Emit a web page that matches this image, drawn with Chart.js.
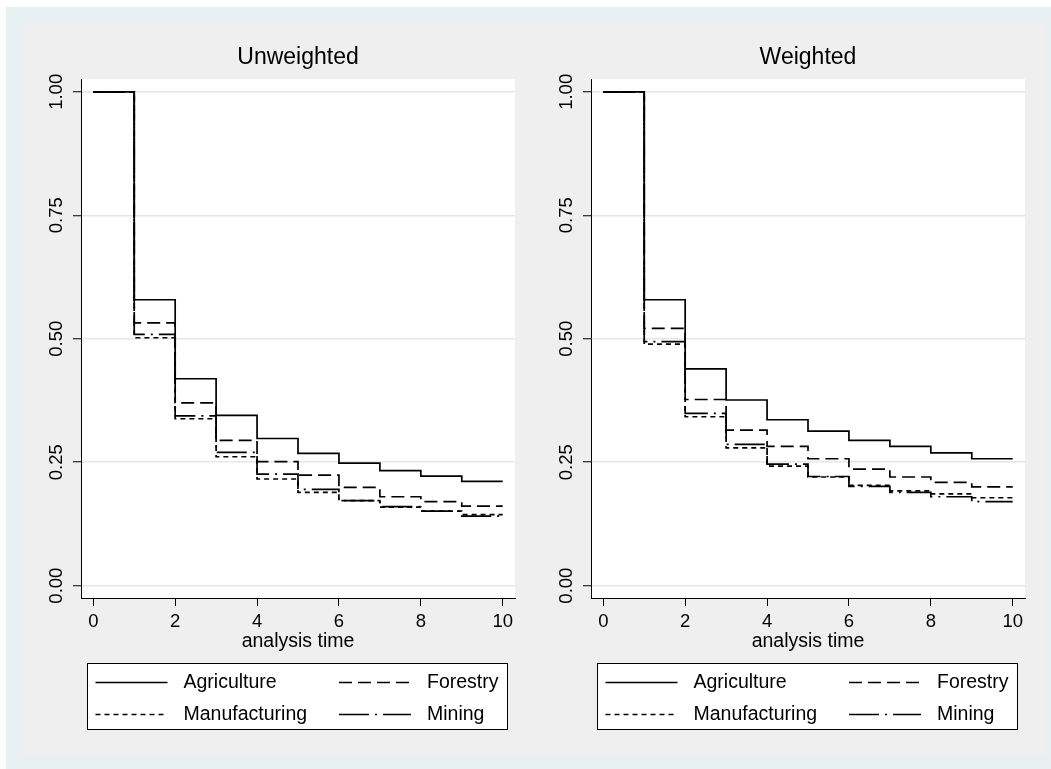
<!DOCTYPE html>
<html lang="en">
<head>
    <meta charset="UTF-8">
    <title>Survival estimates by industry</title>
    <script src="https://cdn.jsdelivr.net/npm/chart.js"></script>
    <style>
        body { margin: 0; background: #ffffff; font-family: "Liberation Sans", Arial, sans-serif; }
        .frame { position: absolute; left: 6px; top: 7px; width: 1045px; height: 762px; background: #e8f0f2; }
        .panel { position: absolute; left: 24px; top: 24px; width: 1022px; height: 733px; background: #efefef; }
        canvas { position: absolute; top: 24px; }
        #chartU { left: 24px; }
        #chartW { left: 535px; }
    </style>
</head>
<body>
    <div class="frame"></div>
    <div class="panel"></div>
    <canvas id="chartU" width="511" height="733"></canvas>
    <canvas id="chartW" width="511" height="733"></canvas>
    <script>
        // analysis time (step points) and axis ticks
        const times = [0, 1, 2, 3, 4, 5, 6, 7, 8, 9, 10];
        const xTicks = [0, 2, 4, 6, 8, 10];
        const yTicks = [0, 0.25, 0.5, 0.75, 1];
        const seriesNames = ["Agriculture", "Forestry", "Manufacturing", "Mining"];

        // Unweighted estimates
        const agriU = [1, 0.579, 0.419, 0.345, 0.298, 0.268, 0.248, 0.233, 0.222, 0.211, 0.211];
        const forU  = [1, 0.532, 0.370, 0.294, 0.251, 0.224, 0.199, 0.180, 0.170, 0.161, 0.161];
        const manU  = [1, 0.502, 0.338, 0.261, 0.216, 0.189, 0.172, 0.159, 0.151, 0.144, 0.144];
        const minU  = [1, 0.509, 0.344, 0.270, 0.226, 0.195, 0.172, 0.160, 0.151, 0.141, 0.141];

        // Weighted estimates
        const agriW = [1, 0.579, 0.439, 0.376, 0.336, 0.313, 0.294, 0.282, 0.269, 0.257, 0.257];
        const forW  = [1, 0.521, 0.377, 0.315, 0.282, 0.257, 0.236, 0.220, 0.209, 0.200, 0.200];
        const manW  = [1, 0.489, 0.342, 0.279, 0.242, 0.220, 0.203, 0.192, 0.186, 0.178, 0.178];
        const minW  = [1, 0.494, 0.349, 0.286, 0.246, 0.221, 0.201, 0.189, 0.180, 0.170, 0.170];

        const dashes = [[], [13, 6], [5, 4], [30, 6, 2, 6]];
        const FONT = "'Liberation Sans', Arial, sans-serif";

        // white plot region
        const plotBg = {
            id: "plotBg",
            beforeDraw(chart) {
                const a = chart.chartArea, ctx = chart.ctx;
                ctx.save();
                ctx.fillStyle = "#ffffff";
                ctx.fillRect(a.left, a.top, a.right - a.left, a.bottom - a.top);
                ctx.restore();
            }
        };

        // boxed two-column legend under the axis
        const boxLegend = {
            id: "boxLegend",
            afterDraw(chart) {
                const a = chart.chartArea, ctx = chart.ctx;
                const left = a.left + 6, right = a.right - 7;
                const top = a.bottom + 65, h = 67;
                ctx.save();
                ctx.fillStyle = "#ffffff";
                ctx.fillRect(left, top, right - left, h);
                ctx.strokeStyle = "#000";
                ctx.lineWidth = 1;
                ctx.strokeRect(left + 0.5, top + 0.5, right - left - 1, h - 1);
                ctx.font = "19.5px " + FONT;
                ctx.textBaseline = "middle";
                ctx.fillStyle = "#000";
                chart.data.datasets.forEach((ds, i) => {
                    const col = i % 2, row = Math.floor(i / 2);
                    const x0 = left + (col ? 252 : 8.5);
                    const y = Math.round(top + (row ? 50.5 : 18.5)) + 0.5;
                    ctx.setLineDash(ds.borderDash);
                    ctx.lineWidth = ds.borderWidth;
                    ctx.beginPath();
                    ctx.moveTo(x0, y);
                    ctx.lineTo(x0 + 72, y);
                    ctx.stroke();
                    ctx.setLineDash([]);
                    ctx.fillText(ds.label, x0 + 88, y);
                });
                ctx.restore();
            }
        };

        function makeChart(id, title, series, yWidth, padRight) {
            const datasets = series.map((vals, i) => ({
                label: seriesNames[i],
                data: times.map((t, k) => ({ x: t, y: vals[k] })),
                borderColor: "#000",
                borderWidth: 1.7,
                borderDash: dashes[i],
                stepped: true,
                pointRadius: 0,
                fill: false
            }));
            return new Chart(document.getElementById(id), {
                type: "line",
                data: { datasets },
                options: {
                    responsive: false,
                    animation: false,
                    devicePixelRatio: 1,
                    layout: { padding: { top: 0, left: 0, right: padRight, bottom: 103 } },
                    plugins: {
                        legend: { display: false },
                        tooltip: { enabled: false },
                        title: {
                            display: true,
                            text: title,
                            fullSize: false,
                            color: "#000",
                            font: { family: FONT, size: 23, weight: "normal" },
                            padding: { top: 20, bottom: 7.4 }
                        }
                    },
                    scales: {
                        x: {
                            type: "linear",
                            min: -0.3,
                            max: 10.3,
                            afterBuildTicks: s => { s.ticks = xTicks.map(v => ({ value: v })); },
                            afterFit: s => { s.height = 56; },
                            grid: { drawOnChartArea: false, tickLength: 8, tickColor: "#000", tickWidth: 1 },
                            border: { color: "#000", width: 1 },
                            ticks: { color: "#000", padding: 5, maxRotation: 0, font: { family: FONT, size: 18.5 } },
                            title: {
                                display: true,
                                text: "analysis time",
                                color: "#000",
                                padding: { top: 0, bottom: 0.3 },
                                font: { family: FONT, size: 19.5 }
                            }
                        },
                        y: {
                            min: -0.025,
                            max: 1.026,
                            afterBuildTicks: s => { s.ticks = yTicks.map(v => ({ value: v })); },
                            afterFit: s => { s.width = yWidth; },
                            grid: { color: "#e6e6e6", lineWidth: 1.5, tickLength: 8, tickColor: "#000", tickWidth: 1 },
                            border: { color: "#000", width: 1 },
                            ticks: {
                                color: "#000",
                                padding: -1.5,
                                minRotation: 90,
                                maxRotation: 90,
                                crossAlign: "center",
                                font: { family: FONT, size: 18.5 },
                                callback: v => v.toFixed(2)
                            }
                        }
                    }
                },
                plugins: [plotBg, boxLegend]
            });
        }

        makeChart("chartU", "Unweighted", [agriU, forU, manU, minU], 57, 20);
        makeChart("chartW", "Weighted", [agriW, forW, manW, minW], 56, 21);
    </script>
</body>
</html>
